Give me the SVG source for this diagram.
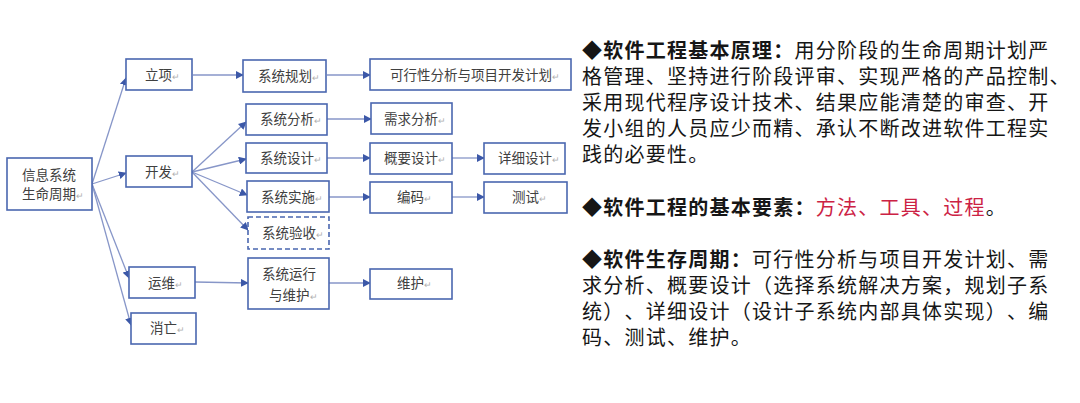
<svg xmlns="http://www.w3.org/2000/svg" width="1080" height="403" viewBox="0 0 1080 403">
<style>
.b{fill:#fff;stroke:#4a67b0;stroke-width:1.6}
.d{fill:#fff;stroke:#4a67b0;stroke-width:1.6;stroke-dasharray:5 3}
.t{font-family:"Noto Sans CJK SC","Noto Sans",sans-serif;font-size:13.5px;fill:#404040}
.r{fill:#b0b0b0;font-size:9px}
.c line{stroke:#8796c8;stroke-width:1.3;marker-end:url(#ah)}
.p{font-family:"Noto Sans CJK SC","Noto Sans",sans-serif;font-size:20px;fill:#161616;text-spacing-trim:space-all;font-feature-settings:"halt" 0,"chws" 0}
.h{font-weight:bold}
.red{fill:#cc2244}
</style>
<defs>
<marker id="ah" viewBox="0 0 10 10" refX="9" refY="5" markerWidth="8" markerHeight="8" markerUnits="userSpaceOnUse" orient="auto">
<path d="M0,0 L10,5 L0,10 z" fill="#3c58a8"/>
</marker>
</defs>
<rect width="1080" height="403" fill="#fff"/>
<g class="c">
<line x1="92" y1="184" x2="126" y2="78"/>
<line x1="92" y1="184" x2="126" y2="173"/>
<line x1="92" y1="184" x2="129" y2="278"/>
<line x1="92" y1="184" x2="131" y2="325"/>
<line x1="192" y1="172" x2="246" y2="122"/>
<line x1="192" y1="172" x2="246" y2="159"/>
<line x1="192" y1="172" x2="247" y2="195"/>
<line x1="192" y1="172" x2="248" y2="230"/>
<line x1="193" y1="75" x2="243" y2="75"/>
<line x1="327" y1="75" x2="370" y2="75"/>
<line x1="327" y1="119" x2="371" y2="119"/>
<line x1="327" y1="158" x2="370" y2="158"/>
<line x1="452" y1="158" x2="484" y2="158"/>
<line x1="329" y1="197" x2="370" y2="197"/>
<line x1="452" y1="197" x2="484" y2="197"/>
<line x1="195" y1="282" x2="248" y2="283"/>
<line x1="329" y1="283" x2="370" y2="283"/>
</g>
<g id="n_info"><rect class="b" x="7" y="158" width="85" height="52"/><text class="t" x="22" y="180">信息系统</text><text class="t" x="22" y="199">生命周期<tspan class="r">↵</tspan></text></g>
<g id="n_lixiang"><rect class="b" x="126" y="59" width="66" height="31"/><text class="t" x="145" y="80">立项<tspan class="r">↵</tspan></text></g>
<g id="n_kaifa"><rect class="b" x="126" y="156" width="66" height="31"/><text class="t" x="145" y="177">开发<tspan class="r">↵</tspan></text></g>
<g id="n_yunwei"><rect class="b" x="129" y="267" width="66" height="31"/><text class="t" x="148" y="288">运维<tspan class="r">↵</tspan></text></g>
<g id="n_xiaowang"><rect class="b" x="131" y="313" width="65" height="31"/><text class="t" x="150" y="333">消亡<tspan class="r">↵</tspan></text></g>
<g id="n_guihua"><rect class="b" x="243" y="60" width="83" height="32"/><text class="t" x="258" y="81">系统规划<tspan class="r">↵</tspan></text></g>
<g id="n_kexing"><rect class="b" x="370" y="59" width="201" height="31"/><text class="t" x="390" y="80">可行性分析与项目开发计划<tspan class="r">↵</tspan></text></g>
<g id="n_fenxi"><rect class="b" x="246" y="104" width="81" height="31"/><text class="t" x="260" y="124">系统分析<tspan class="r">↵</tspan></text></g>
<g id="n_xuqiu"><rect class="b" x="371" y="103" width="81" height="31"/><text class="t" x="384" y="124">需求分析<tspan class="r">↵</tspan></text></g>
<g id="n_sheji"><rect class="b" x="246" y="143" width="81" height="30"/><text class="t" x="260" y="163">系统设计<tspan class="r">↵</tspan></text></g>
<g id="n_gaiyao"><rect class="b" x="370" y="143" width="82" height="31"/><text class="t" x="384" y="163">概要设计<tspan class="r">↵</tspan></text></g>
<g id="n_xiangxi"><rect class="b" x="484" y="143" width="81" height="31"/><text class="t" x="498" y="163">详细设计<tspan class="r">↵</tspan></text></g>
<g id="n_shishi"><rect class="b" x="247" y="181" width="82" height="31"/><text class="t" x="261" y="202">系统实施<tspan class="r">↵</tspan></text></g>
<g id="n_bianma"><rect class="b" x="370" y="182" width="82" height="31"/><text class="t" x="397" y="202">编码<tspan class="r">↵</tspan></text></g>
<g id="n_ceshi"><rect class="b" x="484" y="182" width="83" height="31"/><text class="t" x="512" y="202">测试<tspan class="r">↵</tspan></text></g>
<g id="n_yanshou"><rect class="d" x="248" y="217" width="81" height="32"/><text class="t" x="262" y="238">系统验收<tspan class="r">↵</tspan></text></g>
<g id="n_yunxing"><rect class="b" x="248" y="258" width="81" height="51"/><text class="t" x="262" y="279">系统运行</text><text class="t" x="269" y="300">与维护<tspan class="r">↵</tspan></text></g>
<g id="n_weihu"><rect class="b" x="370" y="269" width="82" height="30"/><text class="t" x="397" y="288">维护<tspan class="r">↵</tspan></text></g>
<g id="notes">
<text class="p" y="58"><tspan class="h" x="582 603.25 624.5 645.75 667 688.25 709.5 730.75 752 773.25">◆软件工程基本原理：</tspan><tspan x="794.5 815.75 837 858.25 879.5 900.75 922 943.25 964.5 985.75 1007 1028.25">用分阶段的生命周期计划严</tspan></text>
<text class="p" y="84" x="582 603.25 624.5 645.75 667 688.25 709.5 730.75 752 773.25 794.5 815.75 837 858.25 879.5 900.75 922 943.25 964.5 985.75 1007 1028.25 1049.5">格管理、坚持进行阶段评审、实现严格的产品控制、</text>
<text class="p" y="110" x="582 603.25 624.5 645.75 667 688.25 709.5 730.75 752 773.25 794.5 815.75 837 858.25 879.5 900.75 922 943.25 964.5 985.75 1007 1028.25">采用现代程序设计技术、结果应能清楚的审查、开</text>
<text class="p" y="136" x="582 603.25 624.5 645.75 667 688.25 709.5 730.75 752 773.25 794.5 815.75 837 858.25 879.5 900.75 922 943.25 964.5 985.75 1007 1028.25">发小组的人员应少而精、承认不断改进软件工程实</text>
<text class="p" y="162" x="582 603.25 624.5 645.75 667 688.25">践的必要性。</text>
<text class="p" y="215"><tspan class="h" x="582 603.25 624.5 645.75 667 688.25 709.5 730.75 752 773.25 794.5">◆软件工程的基本要素：</tspan><tspan class="red" x="815.75 837 858.25 879.5 900.75 922 943.25 964.5">方法、工具、过程</tspan><tspan x="985.75">。</tspan></text>
<text class="p" y="267"><tspan class="h" x="582 603.25 624.5 645.75 667 688.25 709.5 730.75">◆软件生存周期：</tspan><tspan x="752 773.25 794.5 815.75 837 858.25 879.5 900.75 922 943.25 964.5 985.75 1007 1028.25">可行性分析与项目开发计划、需</tspan></text>
<text class="p" y="293" x="582 603.25 624.5 645.75 667 688.25 709.5 730.75 752 773.25 794.5 815.75 837 858.25 879.5 900.75 922 943.25 964.5 985.75 1007 1028.25">求分析、概要设计（选择系统解决方案，规划子系</text>
<text class="p" y="319" x="582 603.25 624.5 645.75 667 688.25 709.5 730.75 752 773.25 794.5 815.75 837 858.25 879.5 900.75 922 943.25 964.5 985.75 1007 1028.25">统）、详细设计（设计子系统内部具体实现）、编</text>
<text class="p" y="345" x="582 603.25 624.5 645.75 667 688.25 709.5 730.75">码、测试、维护。</text>
</g>
</svg>
